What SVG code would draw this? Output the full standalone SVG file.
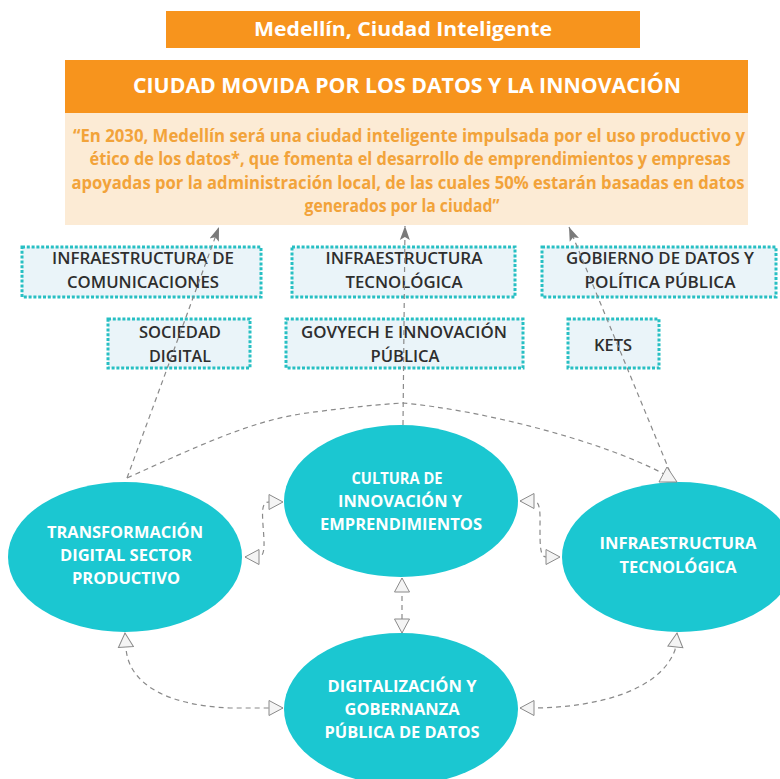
<svg xmlns="http://www.w3.org/2000/svg" width="780" height="779" viewBox="0 0 780 779">
<defs>
<style>
.hdr{fill:#F7941D}
.ht{font-family:"Open Sans","Liberation Sans",sans-serif;font-weight:700;fill:#fff;text-anchor:middle}
.qt{font-family:"Open Sans","Liberation Sans",sans-serif;font-weight:700;fill:#F2A33A;font-size:17px;text-anchor:middle}
.box{fill:#EAF4F9;stroke:#27BFC3;stroke-width:3;stroke-dasharray:3 1.8}
.bt{font-family:"Open Sans","Liberation Sans",sans-serif;font-weight:600;fill:#2e2e2e;font-size:15.5px;text-anchor:middle}
.ell{fill:#1BC7D1}
.et{font-family:"Open Sans","Liberation Sans",sans-serif;font-weight:700;fill:#fff;font-size:16px;text-anchor:middle}
.dash{fill:none;stroke:#8a8a8a;stroke-width:1.2;stroke-dasharray:5 4}
.up{marker-end:url(#solid)}
.both{marker-start:url(#hollow);marker-end:url(#hollow)}
.hollow{fill:#f4f4f4;stroke:#8a8a8a;stroke-width:1}
</style>
<marker id="solid" markerUnits="userSpaceOnUse" markerWidth="14" markerHeight="12" viewBox="0 0 14 12" refX="14" refY="6" orient="auto">
<path d="M0,1 L14,6 L0,11 L3,6 z" fill="#7a7a7a"/>
</marker>
<marker id="hollow" markerUnits="userSpaceOnUse" markerWidth="16" markerHeight="17" viewBox="-1 -1 16 17" refX="14" refY="7.5" orient="auto-start-reverse">
<path d="M0,0 L14,7.5 L0,15 z" fill="#f4f4f4" stroke="#8a8a8a" stroke-width="1"/>
</marker>
</defs>
<rect width="780" height="779" fill="#fff"/>

<g id="title">
<rect class="hdr" x="166" y="11" width="474" height="37"/>
<text class="ht" x="403" y="35.5" font-size="19.5" textLength="298" lengthAdjust="spacingAndGlyphs">Medellín, Ciudad Inteligente</text>
</g>

<g id="vision">
<rect class="hdr" x="65" y="60" width="683" height="53"/>
<text class="ht" x="407" y="93" font-size="21" textLength="548" lengthAdjust="spacingAndGlyphs">CIUDAD MOVIDA POR LOS DATOS Y LA INNOVACIÓN</text>
<rect x="65" y="113" width="683" height="112" fill="#FCEBD5"/>
<text class="qt" x="409" y="141.5" textLength="672" lengthAdjust="spacingAndGlyphs">“En 2030, Medellín será una ciudad inteligente impulsada por el uso productivo y</text>
<text class="qt" x="410" y="165" textLength="641" lengthAdjust="spacingAndGlyphs">ético de los datos*, que fomenta el desarrollo de emprendimientos y empresas</text>
<text class="qt" x="408" y="189" textLength="673" lengthAdjust="spacingAndGlyphs">apoyadas por la administración local, de las cuales 50% estarán basadas en datos</text>
<text class="qt" x="402" y="211.5" textLength="195" lengthAdjust="spacingAndGlyphs">generados por la ciudad”</text>
</g>

<g id="infra-comunicaciones">
<rect class="box" x="22" y="247" width="239" height="50"/>
<text class="bt" x="143" y="263.5" textLength="182" lengthAdjust="spacingAndGlyphs">INFRAESTRUCTURA DE</text>
<text class="bt" x="143" y="287.5" textLength="152" lengthAdjust="spacingAndGlyphs">COMUNICACIONES</text>
</g>
<g id="infra-tecnologica-box">
<rect class="box" x="292" y="247" width="223" height="50"/>
<text class="bt" x="404" y="263.5" textLength="157" lengthAdjust="spacingAndGlyphs">INFRAESTRUCTURA</text>
<text class="bt" x="404" y="287.5" textLength="117" lengthAdjust="spacingAndGlyphs">TECNOLÓGICA</text>
</g>
<g id="gobierno-datos">
<rect class="box" x="542" y="247" width="234" height="50"/>
<text class="bt" x="660" y="263.5" textLength="188" lengthAdjust="spacingAndGlyphs">GOBIERNO DE DATOS Y</text>
<text class="bt" x="660" y="287.5" textLength="151" lengthAdjust="spacingAndGlyphs">POLÍTICA PÚBLICA</text>
</g>
<g id="sociedad-digital">
<rect class="box" x="108" y="319" width="142" height="49"/>
<text class="bt" x="180" y="337.5" textLength="82" lengthAdjust="spacingAndGlyphs">SOCIEDAD</text>
<text class="bt" x="180" y="361.5" textLength="62" lengthAdjust="spacingAndGlyphs">DIGITAL</text>
</g>
<g id="govtech">
<rect class="box" x="286" y="319" width="237" height="49"/>
<text class="bt" x="404" y="337.5" textLength="206" lengthAdjust="spacingAndGlyphs">GOVYECH E INNOVACIÓN</text>
<text class="bt" x="405" y="361.5" textLength="69" lengthAdjust="spacingAndGlyphs">PÚBLICA</text>
</g>
<g id="kets">
<rect class="box" x="568" y="319" width="91" height="49"/>
<text class="bt" x="613" y="350.5" textLength="38" lengthAdjust="spacingAndGlyphs">KETS</text>
</g>

<g id="transformacion">
<ellipse class="ell" cx="125" cy="557" rx="117" ry="75"/>
<text class="et" x="125" y="538" textLength="156" lengthAdjust="spacingAndGlyphs">TRANSFORMACIÓN</text>
<text class="et" x="126" y="561" textLength="132" lengthAdjust="spacingAndGlyphs">DIGITAL SECTOR</text>
<text class="et" x="126" y="584" textLength="108" lengthAdjust="spacingAndGlyphs">PRODUCTIVO</text>
</g>
<g id="cultura">
<ellipse class="ell" cx="401" cy="501" rx="117" ry="76"/>
<text class="et" x="397" y="484" textLength="91" lengthAdjust="spacingAndGlyphs">CULTURA DE</text>
<text class="et" x="400" y="507" textLength="124" lengthAdjust="spacingAndGlyphs">INNOVACIÓN Y</text>
<text class="et" x="401" y="530" textLength="162" lengthAdjust="spacingAndGlyphs">EMPRENDIMIENTOS</text>
</g>
<g id="infraestructura">
<ellipse class="ell" cx="679" cy="557" rx="117" ry="75"/>
<text class="et" x="678" y="549" textLength="157" lengthAdjust="spacingAndGlyphs">INFRAESTRUCTURA</text>
<text class="et" x="678" y="573" textLength="117" lengthAdjust="spacingAndGlyphs">TECNOLÓGICA</text>
</g>
<g id="digitalizacion">
<ellipse class="ell" cx="401" cy="709" rx="117" ry="76"/>
<text class="et" x="402" y="692" textLength="149" lengthAdjust="spacingAndGlyphs">DIGITALIZACIÓN Y</text>
<text class="et" x="402" y="715" textLength="115" lengthAdjust="spacingAndGlyphs">GOBERNANZA</text>
<text class="et" x="402" y="738" textLength="155" lengthAdjust="spacingAndGlyphs">PÚBLICA DE DATOS</text>
</g>

<g id="connectors">
<path class="dash up" d="M127,478 L219,227"/>
<path class="dash up" d="M403,425 L405,226"/>
<path class="dash up" d="M670,472 L569,227"/>
<path class="dash" d="M127,478 C200,445 250,422 300,414 C350,407 385,404 403,403 C480,410 600,440 664,474"/>
<polygon class="hollow" points="667,467 677,482 659,482"/>
<path class="dash both" d="M245,557 L259,557 C266,556 264,540 263,525 C262,510 262,502 269,502 L283,502"/>
<path class="dash both" d="M520,501 L534,501 C541,502 540,515 540,528 C540,545 540,557 546,557 L560,557"/>
<path class="dash both" d="M402,578 L402,633"/>
<path class="dash both" d="M125,633 L126,648 C128,680 160,705 230,708 L283,708"/>
<path class="dash both" d="M520,708 L535,708 C600,707 660,690 675,650 L677,633"/>
</g>
</svg>
